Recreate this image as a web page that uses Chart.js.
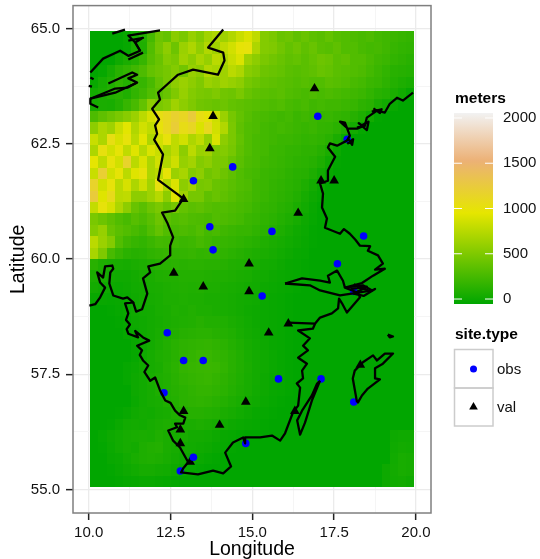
<!DOCTYPE html>
<html>
<head>
<meta charset="utf-8">
<title>Elevation and sites</title>
<script src="https://cdn.jsdelivr.net/npm/chart.js@4"></script>
<style>
html, body { margin: 0; padding: 0; background: #fff; }
canvas { display: block; }
</style>
</head>
<body>
<canvas id="mapChart" width="540" height="559"></canvas>
<script>
// site positions, lon / lat
const obsLon = [17.0, 14.4, 13.2, 13.7, 15.6, 13.8, 18.4, 17.6, 15.3, 18.1, 12.4, 12.9, 13.5, 15.8, 17.1, 12.3, 18.1, 14.8, 13.2, 12.8, 17.9];
const obsLat = [63.1, 62.0, 61.7, 60.7, 60.6, 60.2, 60.5, 59.9, 59.2, 59.3, 58.4, 57.8, 57.8, 57.4, 57.4, 57.1, 56.9, 56.0, 55.7, 55.4, 62.6];
const valLon = [16.9, 13.8, 13.7, 17.5, 17.1, 12.9, 16.4, 14.9, 12.6, 13.5, 14.9, 15.5, 16.1, 14.0, 14.8, 12.9, 12.8, 12.8, 13.1, 18.3, 16.3];
const valLat = [63.7, 63.1, 62.4, 61.7, 61.7, 61.3, 61.0, 59.9, 59.7, 59.4, 59.3, 58.4, 58.6, 56.4, 56.9, 56.7, 56.3, 56.0, 55.6, 57.7, 56.7];

const xMajor = [10, 12.5, 15, 17.5, 20];
const xMinor = [11.25, 13.75, 16.25, 18.75];
const yMajor = [55, 57.5, 60, 62.5, 65];
const yMinor = [56.25, 58.75, 61.25, 63.75];

const legendTicks = [0, 500, 1000, 1500, 2000];
const legendMin = -55;
const legendMax = 2055;

// elevation in meters, north to south, west to east, 0.25 degree cells
// a row stops where only open sea is left
const seaLevel = -50;
const elevRows = [
  [-50,-50,-50,-50,-20,40,100,250,420,380,550,480,600,520,650,700,640,720,820,900,780,520,480,400,420,360,400,350,330,380,320,300,280,260,280,240,220,200,180,170],
  [-50,-50,-50,-50,-30,60,80,300,450,560,420,620,700,580,720,640,780,860,980,1000,700,520,500,440,380,420,360,400,340,320,360,300,300,260,240,250,220,180,160,150],
  [-50,-50,-50,10,60,100,180,320,400,520,480,640,560,680,600,760,700,820,900,640,560,480,440,400,360,380,340,380,420,400,340,360,300,300,260,220,200,160,140,120],
  [-50,-30,40,120,160,220,280,380,420,460,520,440,600,560,720,680,640,760,700,540,500,420,400,380,340,320,340,360,400,380,340,320,300,280,240,200,160,120,110,100],
  [-20,40,80,150,100,200,180,260,380,460,560,620,560,500,620,580,640,600,560,460,420,380,360,340,320,300,320,300,300,340,320,300,260,240,200,180,140,100,70,50],
  [30,60,100,120,80,160,220,300,340,400,500,600,520,480,460,500,440,420,480,400,360,340,320,340,300,280,260,280,260,280,260,240,220,200,160,120,100,60,20,-30],
  [40,60,50,100,180,260,380,560,480,520,640,560,500,440,420,400,420,380,360,340,320,300,280,300,260,240,260,220,240,220,220,200,180,140,120,60,20,-20],
  [280,360,420,480,540,620,760,880,1040,1100,1180,1120,1240,1040,980,840,620,460,380,320,280,260,240,220,240,200,220,200,180,190,170,150,110,70,20,-40],
  [560,700,640,820,940,720,860,780,1000,1100,1220,1060,1120,900,1100,860,720,480,360,300,280,240,220,240,220,200,180,200,170,160,130,80,30,-30],
  [820,700,1040,880,1000,760,940,700,860,1000,780,860,700,780,600,900,560,480,380,300,260,240,220,200,200,180,160,170,150,120,60,-20],
  [700,1020,860,980,780,920,740,900,820,680,780,560,760,620,640,500,520,460,360,300,260,240,200,190,170,160,140,140,110,60,-10],
  [960,780,1000,860,1160,760,900,700,860,720,840,600,660,520,560,480,480,400,340,280,260,220,200,180,160,140,130,110,70,10,-40],
  [820,1200,860,980,760,920,1000,700,760,980,620,680,520,560,440,480,420,360,300,260,240,200,180,170,140,120,110,70,20,-30],
  [1160,860,1000,760,880,700,840,660,1020,720,900,560,640,460,480,400,380,340,300,280,220,200,170,150,130,110,70,30,-20],
  [1240,920,1080,760,780,560,560,640,740,560,920,640,460,460,360,400,360,320,280,260,220,190,160,140,120,90,40,0,-30],
  [800,1000,880,700,560,400,340,420,480,400,460,380,340,360,320,300,300,280,260,240,200,170,150,120,100,60,20,-20],
  [480,420,360,300,260,320,280,340,420,340,300,320,290,280,260,300,280,260,240,200,180,150,130,100,70,40,0,-30],
  [520,600,400,340,300,260,220,300,380,300,260,280,260,300,240,260,220,200,180,180,150,130,100,70,40,10,-10,-40],
  [760,620,520,300,220,180,160,200,240,230,220,200,210,250,220,190,180,170,150,130,110,80,60,40,20,0,-20,-40],
  [680,500,260,180,130,110,120,150,170,180,160,170,180,160,170,160,150,130,110,90,70,60,40,20,0,-20,-30],
  [120,70,60,50,40,60,70,90,110,120,130,120,130,130,120,120,110,90,80,70,50,30,20,0,-20,-30,-40],
  [60,50,20,10,10,30,50,60,80,90,90,100,100,100,90,80,80,70,60,50,30,20,0,-10,-20,-30,-40],
  [30,10,0,-10,0,20,30,50,60,70,80,90,80,90,70,70,60,50,40,30,20,0,-10,-20,-30,-40],
  [-20,-20,-30,-20,-10,10,30,40,50,70,70,80,70,70,60,60,50,40,30,20,10,-10,-20,-30,-40],
  [-50,-50,-40,-30,-10,10,20,30,50,60,80,70,90,70,70,60,50,40,30,10,0,-10,-20,-30,-40],
  [-50,-50,-50,-40,-30,0,10,30,40,60,70,80,90,110,90,90,80,60,40,20,0,-10,-20,-30,-40],
  [-50,-50,-50,-50,-30,-10,10,30,50,70,90,110,120,130,130,110,100,80,50,30,10,-10,-20,-30,-40],
  [-50,-50,-50,-50,-50,-20,0,30,60,90,120,140,150,160,170,150,130,100,70,40,20,0,-20,-30,-40],
  [-50,-50,-50,-50,-50,-30,10,40,70,90,120,150,170,190,190,170,150,120,90,50,30,10,-10,-30,-40],
  [-50,-50,-50,-50,-30,-10,20,40,60,100,130,170,180,190,200,190,160,120,90,60,30,10,-10,-30,-40],
  [-50,-50,-50,-50,-30,0,20,50,70,90,120,150,170,180,190,170,140,110,80,50,30,0,-20,-30,-40],
  [-50,-50,-50,-50,-50,0,20,40,70,90,110,130,150,170,170,150,130,100,70,50,20,0,-20,-30,-40],
  [-50,-50,-50,-50,-50,-10,20,40,50,80,100,130,140,150,140,120,100,70,50,30,10,-10,-30,-40],
  [-50,-50,-50,-40,-20,10,30,20,40,50,80,90,110,110,100,90,60,40,20,0,-20,-30,-40],
  [-50,-50,-40,-10,20,30,20,40,60,70,50,60,60,70,60,40,20,0,-10,-20,-30,-40],
  [-50,-30,0,20,40,50,60,50,80,60,40,50,30,30,20,0,-20,-30,-40,-50,-50,-50,-50,-50,-50,-50,-50,-50,-50,-50,-50,-50,-50,-50,-50,-50,-50,0,10,10],
  [-50,-40,-10,20,40,30,70,90,100,60,40,30,20,10,0,-20,-30,-40,-50,-50,-50,-50,-50,-50,-50,-50,-50,-50,-50,-50,-50,-50,-50,-50,-50,-50,-50,10,30,20],
  [-50,-50,-20,-10,20,50,70,80,70,50,30,10,0,-10,-30,-40,-50,-50,-50,-50,-50,-50,-50,-50,-50,-50,-50,-50,-50,-50,-50,-50,-50,-50,-50,-50,-50,20,50,40],
  [-50,-50,-40,-20,0,20,40,40,30,20,0,-20,-30,-40,-50,-50,-50,-50,-50,-50,-50,-50,-50,-50,-50,-50,-50,-50,-50,-50,-50,-50,-50,-50,-50,-50,0,30,50,40],
  [-50,-50,-50,-40,-30,-20,-10,-10,-20,-30,-40,-50,-50,-50,-50,-50,-50,-50,-50,-50,-50,-50,-50,-50,-50,-50,-50,-50,-50,-50,-50,-50,-50,-50,-50,-50,0,20,30,10]
];
const cellSize = 0.2475;
const gridWest = 10.05;
const gridNorth = 64.95;

// border and coast lines as [lon, lat]
const unionBorder = [[14.11,64.98],[13.65,64.59],[14.11,64.48],[14.15,64.31],[13.95,64.00],[13.19,64.11],[12.73,64.00],[12.43,63.81],[12.12,63.61],[12.18,63.46],[11.94,63.26],[12.15,63.03],[12.03,62.90],[12.09,62.72],[12.00,62.59],[12.27,62.27],[12.12,61.72],[12.73,61.40],[12.89,61.31],[12.64,61.05],[12.24,61.01],[12.40,60.79],[12.58,60.47],[12.49,60.29],[12.49,60.08],[12.18,59.90],[11.82,59.84],[11.88,59.71],[11.66,59.58],[11.79,59.25],[11.63,58.91],[11.45,58.86],[11.36,59.06]];
const mainCoast = [[10.02,58.99],[10.20,59.02],[10.35,59.17],[10.50,59.38],[10.35,59.49],[10.26,59.71],[10.44,59.60],[10.50,59.84],[10.72,59.86],[10.75,59.79],[10.66,59.71],[10.63,59.47],[10.75,59.21],[11.05,59.14],[11.18,59.17],[11.36,59.06],[11.11,59.04],[11.21,58.82],[11.14,58.68],[11.26,58.58],[11.16,58.48],[11.21,58.38],[11.51,58.30],[11.42,58.44],[11.66,58.30],[11.85,58.23],[11.48,58.12],[11.63,58.02],[11.56,57.92],[11.66,57.80],[11.82,57.69],[11.70,57.55],[11.88,57.36],[12.03,57.43],[12.18,57.15],[12.34,56.93],[12.50,56.88],[12.64,56.71],[12.79,56.61],[12.95,56.56],[12.89,56.43],[12.64,56.43],[12.70,56.35],[12.43,56.28],[12.58,56.06],[12.79,55.91],[13.04,55.59],[12.89,55.46],[12.82,55.37],[13.34,55.33],[13.80,55.41],[14.11,55.35],[14.35,55.50],[14.17,55.80],[14.41,56.02],[14.72,56.13],[14.78,56.00],[14.78,56.13],[15.24,56.13],[15.60,56.17],[15.85,56.06],[16.00,56.22],[16.24,56.67],[16.40,56.82],[16.46,57.21],[16.36,57.30],[16.55,57.41],[16.52,57.58],[16.67,57.73],[16.40,57.86],[16.70,58.02],[16.55,58.12],[16.76,58.28],[16.40,58.45],[16.85,58.49],[16.92,58.60],[16.09,58.62],[16.92,58.60],[17.07,58.73],[17.43,58.82],[17.62,58.93],[17.65,59.14],[17.74,59.04],[17.89,58.84],[18.29,59.17],[18.23,59.27],[17.83,59.38],[18.35,59.48],[18.69,59.64],[19.05,59.79],[18.75,59.77],[18.99,59.90],[18.84,60.08],[18.53,60.18],[18.60,60.28],[18.29,60.29],[18.15,60.42],[17.98,60.55],[17.80,60.65],[17.68,60.55],[17.22,60.68],[17.28,60.88],[17.13,61.12],[17.16,61.42],[17.07,61.64],[17.31,61.70],[17.31,61.92],[17.53,62.22],[17.31,62.42],[17.37,62.51],[17.59,62.46],[17.89,62.57],[17.98,62.68],[17.83,62.96],[17.68,62.98],[17.92,62.83],[18.20,62.83],[18.44,62.90],[18.50,63.07],[18.81,63.22],[19.05,63.18],[19.20,63.37],[19.42,63.50],[19.60,63.44],[19.91,63.61]];
const lakeNorth = [[16.00,59.47],[16.52,59.58],[17.07,59.53],[17.37,59.49],[17.31,59.64],[17.59,59.75],[17.77,59.53],[17.83,59.38]];
const lakeSouth = [[16.00,59.47],[16.76,59.43],[17.07,59.32],[17.68,59.21],[18.23,59.27],[18.66,59.32],[18.38,59.43],[17.83,59.38]];
const gotland = [[18.20,56.89],[18.07,57.41],[18.13,57.58],[18.38,57.76],[18.69,57.91],[18.81,57.80],[19.05,57.95],[19.30,57.95],[18.99,57.73],[18.75,57.63],[18.75,57.41],[18.90,57.39],[18.53,57.19],[18.35,57.04],[18.23,56.89],[18.20,56.89]];
const oland = [[17.07,57.36],[17.01,57.26],[16.82,56.93],[16.61,56.45],[16.46,56.19],[16.37,56.50],[16.52,56.71],[16.82,57.04],[16.98,57.30],[17.07,57.36]];
const sandon = [[19.14,58.36],[19.30,58.32],[19.20,58.30],[19.14,58.36]];
const norwayCoast = [[10.05,64.05],[10.44,64.35],[10.96,64.52],[11.21,64.41],[11.57,64.52],[11.42,64.70],[11.21,64.85],[12.18,64.96]];
const norwayIsleA = [[11.21,64.74],[11.66,64.80],[11.42,64.70],[11.57,64.52]];
const norwayIsleB = [[11.21,64.33],[11.66,64.48]];
const norwayIsleC = [[10.72,64.89],[11.11,64.98]];
const norwayFjordA = [[10.60,63.81],[11.33,64.05],[11.48,64.00],[11.21,63.92],[11.48,63.83],[11.18,63.72],[10.81,63.70],[10.05,63.48],[10.05,63.37],[10.29,63.29]];
const norwayFjordB = [[10.05,63.48],[10.81,63.61],[11.48,63.83]];
const norwayIsleD = [[10.05,63.94],[10.15,63.90]];
const norwayIsleE = [[10.00,63.76],[10.10,63.74]];
const stockholmBlob = [[18.1,59.45],[18.6,59.3],[18.75,59.35],[18.4,59.2],[18.1,59.25],[18.5,59.4],[18.0,59.35]];
const hogaBlob = [[18.2,62.85],[18.55,62.98],[18.5,62.8],[18.25,62.95],[18.45,62.85]];
const ulvoBlob = [[18.65,63.2],[18.95,63.25],[18.9,63.17],[18.7,63.27]];
const sundsBlob = [[17.9,62.5],[18.08,62.6],[18.05,62.48],[17.92,62.62]];
const coastLines = [unionBorder, mainCoast, lakeNorth, lakeSouth, gotland, oland, sandon, norwayCoast, norwayIsleA, norwayIsleB, norwayIsleC, norwayFjordA, norwayFjordB, norwayIsleD, norwayIsleE, stockholmBlob, hogaBlob, ulvoBlob, sundsBlob];

const colourStops = [[0, [0, 166, 0]], [0.477, [230, 230, 0]], [0.75, [236, 177, 118]], [1, [242, 242, 242]]];

function elevColour(v) {
    let t = (v - legendMin) / (legendMax - legendMin);
    t = Math.max(0, Math.min(1, t));
    for (let i = 1; i < colourStops.length; i++) {
        if (t <= colourStops[i][0]) {
            let a = colourStops[i - 1], b = colourStops[i];
            let f = (t - a[0]) / (b[0] - a[0]);
            let c = a[1].map((n, k) => Math.round(n + (b[1][k] - n) * f));
            return `rgb(${c[0]},${c[1]},${c[2]})`;
        }
    }
    return '#f2f2f2';
}

// raster goes between the grid and the datasets
const rasterPlugin = {
    id: 'raster',
    beforeDatasetsDraw(chart) {
        let ctx = chart.ctx, x = chart.scales.x, y = chart.scales.y;
        ctx.save();
        elevRows.forEach((row, r) => {
            for (let c = 0; c < 40; c++) {
                let v = row[c] === undefined ? seaLevel : row[c];
                let x0 = Math.round(x.getPixelForValue(gridWest + c * cellSize));
                let x1 = Math.round(x.getPixelForValue(gridWest + (c + 1) * cellSize));
                let y0 = Math.round(y.getPixelForValue(gridNorth - r * cellSize));
                let y1 = Math.round(y.getPixelForValue(gridNorth - (r + 1) * cellSize));
                ctx.fillStyle = elevColour(v);
                ctx.fillRect(x0, y0, x1 - x0, y1 - y0);
            }
        });
        ctx.restore();
    }
};

// panel border and the two ggplot style legends
const framePlugin = {
    id: 'frame',
    afterDraw(chart) {
        let ctx = chart.ctx, a = chart.chartArea;
        ctx.save();
        ctx.strokeStyle = '#7f7f7f';
        ctx.lineWidth = 1.5;
        ctx.strokeRect(a.left, a.top, a.right - a.left, a.bottom - a.top);

        ctx.fillStyle = '#000';
        ctx.textBaseline = 'middle';
        ctx.textAlign = 'left';
        ctx.font = 'bold 15.5px "Liberation Sans"';
        ctx.fillText('meters', 455, 99);
        ctx.fillText('site.type', 455, 335);

        let barTop = 113, barBottom = 304, barL = 454, barR = 493;
        let grad = ctx.createLinearGradient(0, barBottom, 0, barTop);
        colourStops.forEach(s => grad.addColorStop(s[0], `rgb(${s[1].join(',')})`));
        ctx.fillStyle = grad;
        ctx.fillRect(barL, barTop, barR - barL, barBottom - barTop);

        ctx.font = '15px "Liberation Sans"';
        legendTicks.forEach(t => {
            let py = barBottom - (t - legendMin) / (legendMax - legendMin) * (barBottom - barTop);
            ctx.strokeStyle = '#fff';
            ctx.lineWidth = 1;
            ctx.beginPath();
            ctx.moveTo(barL, py); ctx.lineTo(barL + 8, py);
            ctx.moveTo(barR - 8, py); ctx.lineTo(barR, py);
            ctx.stroke();
            ctx.fillStyle = '#111';
            ctx.fillText(String(t), 503, py);
        });

        ctx.strokeStyle = '#cccccc';
        ctx.lineWidth = 1.5;
        ctx.strokeRect(454.5, 349.5, 38.5, 38.5);
        ctx.strokeRect(454.5, 388, 38.5, 38);
        ctx.fillStyle = '#0000ff';
        ctx.beginPath();
        ctx.arc(473.5, 369, 3.5, 0, Math.PI * 2);
        ctx.fill();
        ctx.fillStyle = '#000';
        ctx.strokeStyle = '#000';
        ctx.lineWidth = 0;
        Chart.helpers.drawPoint(ctx, { pointStyle: 'triangle', radius: 5, rotation: 0, borderWidth: 0 }, 473.5, 407);
        ctx.fillStyle = '#111';
        ctx.fillText('obs', 497, 370);
        ctx.fillText('val', 497, 408);
        ctx.restore();
    }
};

const tickFont = { family: '"Liberation Sans"', size: 15 };
const titleFont = { family: '"Liberation Sans"', size: 19.5 };

function axisGrid(major) {
    return {
        color: c => major.includes(c.tick.value) ? '#ebebeb' : '#f5f5f5',
        tickColor: c => major.includes(c.tick.value) ? '#222222' : 'rgba(0,0,0,0)',
        lineWidth: c => major.includes(c.tick.value) ? 1.3 : 1,
        tickWidth: 1.5,
        tickLength: 7,
        drawOnChartArea: true
    };
}

function pairsToPoints(line) {
    return line.map(p => ({ x: p[0], y: p[1] }));
}

let lineSets = coastLines.map(line => ({
    data: pairsToPoints(line),
    showLine: true,
    pointRadius: 0,
    borderColor: '#000',
    borderWidth: 2.3,
    borderJoinStyle: 'round',
    tension: 0
}));

let ctx = document.getElementById('mapChart').getContext('2d');
new Chart(ctx, {
    type: 'scatter',
    data: {
        datasets: lineSets.concat([
            {
                label: 'obs',
                data: obsLon.map((v, i) => ({ x: v, y: obsLat[i] })),
                pointStyle: 'circle',
                pointRadius: 3.8,
                pointBorderWidth: 0,
                pointBackgroundColor: '#0000ff'
            },
            {
                label: 'val',
                data: valLon.map((v, i) => ({ x: v, y: valLat[i] })),
                pointStyle: 'triangle',
                pointRadius: 5.6,
                pointBorderWidth: 0,
                pointBackgroundColor: '#000'
            }
        ])
    },
    options: {
        responsive: false,
        animation: false,
        layout: { padding: { top: 5, right: 109, left: 0, bottom: 0 } },
        plugins: { legend: { display: false }, tooltip: { enabled: false } },
        scales: {
            x: {
                type: 'linear',
                min: 9.52,
                max: 20.46,
                afterBuildTicks: s => { s.ticks = xMajor.concat(xMinor).map(v => ({ value: v })); },
                afterFit: s => { s.height = 46; s.paddingLeft = 0; s.paddingRight = 0; },
                grid: axisGrid(xMajor),
                border: { display: false },
                ticks: {
                    autoSkip: false,
                    maxRotation: 0,
                    font: tickFont,
                    color: '#111',
                    padding: 4,
                    callback: v => xMajor.includes(v) ? v.toFixed(1) : ''
                },
                title: { display: true, text: 'Longitude', font: titleFont, color: '#000', padding: { top: 0, bottom: -2 } }
            },
            y: {
                type: 'linear',
                min: 54.49,
                max: 65.5,
                afterBuildTicks: s => { s.ticks = yMajor.concat(yMinor).map(v => ({ value: v })); },
                afterFit: s => { s.width = 73; s.paddingTop = 0; s.paddingBottom = 0; },
                grid: axisGrid(yMajor),
                border: { display: false },
                ticks: {
                    autoSkip: false,
                    font: tickFont,
                    color: '#111',
                    padding: 6,
                    callback: v => yMajor.includes(v) ? v.toFixed(1) : ''
                },
                title: { display: true, text: 'Latitude', font: titleFont, color: '#000', padding: { top: 7, bottom: 0 } }
            }
        }
    },
    plugins: [rasterPlugin, framePlugin]
});
</script>
</body>
</html>
